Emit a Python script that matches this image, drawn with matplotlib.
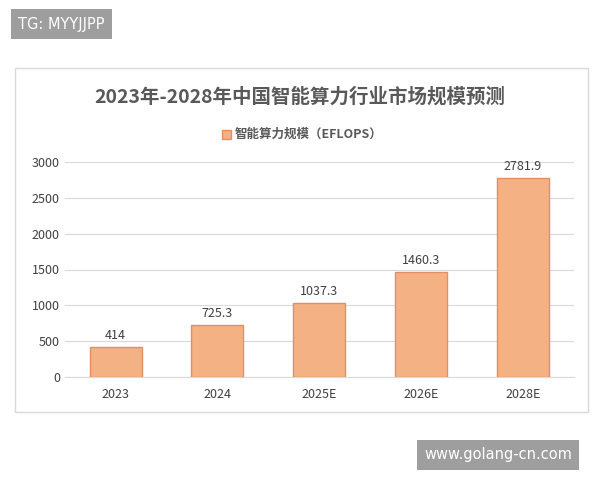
import matplotlib
matplotlib.use("Agg")
import matplotlib.pyplot as plt
from matplotlib.patches import Rectangle

plt.rcParams['font.family'] = ['Noto Sans CJK SC', 'DejaVu Sans']

years = ['2023', '2024', '2025E', '2026E', '2028E']
values = [414, 725.3, 1037.3, 1460.3, 2781.9]
labels = ['414', '725.3', '1037.3', '1460.3', '2781.9']

fig = plt.figure(figsize=(6, 4.8), dpi=100)
fig.patch.set_facecolor('white')

# chart frame
fig.add_artist(Rectangle((15/600, 1-412/480), 573/600, 344/480, transform=fig.transFigure,
                         fill=False, edgecolor='#d9d9d9', linewidth=1))

ax = fig.add_axes([0.108, 1-377/480, 0.848, (377-162)/480])
x = range(len(years))
ax.bar(x, values, width=0.51, color='#F4B183', edgecolor='#E58E60', linewidth=1, zorder=3)
for i, v in enumerate(values):
    ax.text(i, v + 70, labels[i], ha='center', va='bottom', fontsize=9, color='#404040')

ax.set_ylim(0, 3000)
ax.set_yticks(range(0, 3001, 500))
ax.set_xlim(-0.5, 4.5)
ax.set_xticks(list(x))
ax.set_xticklabels(years, fontsize=9, color='#404040')
ax.tick_params(axis='y', labelsize=9, colors='#404040', length=0)
ax.tick_params(axis='x', length=0, pad=8)
ax.yaxis.grid(True, color='#d9d9d9', linewidth=0.8, zorder=0)
for s in ['top', 'right', 'left']:
    ax.spines[s].set_visible(False)
ax.spines['bottom'].set_color('#d9d9d9')

fig.text(0.5, 1-97/480, '2023年-2028年中国智能算力行业市场规模预测', ha='center', va='center',
         fontsize=14, fontweight='bold', color='#595959')
fig.add_artist(Rectangle((222/600, 1-139/480), 9/600, 9/480, transform=fig.transFigure,
                         facecolor='#F4B183', edgecolor='#E58E60'))
fig.text(235/600, 1-134/480, '智能算力规模（EFLOPS）', ha='left', va='center', fontsize=9,
         fontweight='bold', color='#595959')

# watermarks
fig.text(18/600, 1-24/480, 'TG: MYYJJPP', ha='left', va='center', fontsize=10.5, color='white',
         family=['DejaVu Sans'],
         bbox=dict(boxstyle='square,pad=0.5', facecolor='#9e9e9e', edgecolor='none'))
fig.text(424/600, 1-455/480, 'www.golang-cn.com', ha='left', va='center', fontsize=10.5, color='white',
         family=['DejaVu Sans'],
         bbox=dict(boxstyle='square,pad=0.5', facecolor='#9e9e9e', edgecolor='none'))

fig.savefig('out.png', dpi=100, facecolor='white')
